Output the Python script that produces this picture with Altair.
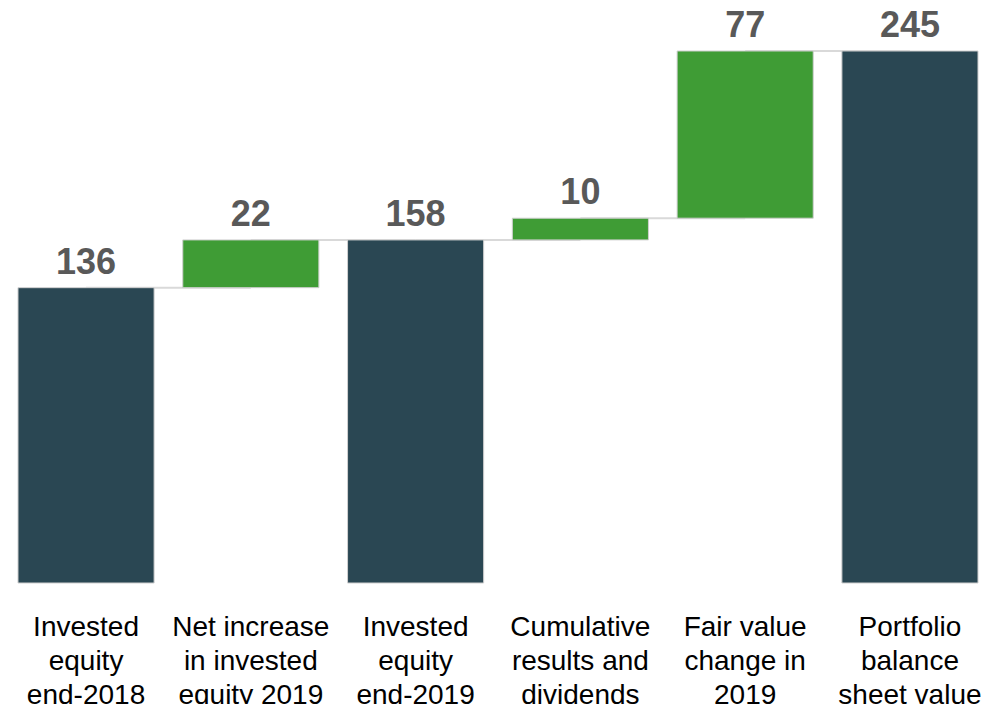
import altair as alt
import pandas as pd

categories = [
    "Invested|equity|end-2018",
    "Net increase|in invested|equity 2019",
    "Invested|equity|end-2019",
    "Cumulative|results and|dividends",
    "Fair value|change in|2019",
    "Portfolio|balance|sheet value",
]
amounts = [136, 22, 158, 10, 77, 245]
kinds = ["total", "increase", "total", "increase", "increase", "total"]

# waterfall stacking
starts, ends = [], []
running = 0
for a, k in zip(amounts, kinds):
    if k == "total":
        s, e = 0, a
        running = a
    else:
        s, e = running, running + a
        running = e
    starts.append(s)
    ends.append(e)

df = pd.DataFrame({"cat": categories, "amount": amounts, "kind": kinds,
                   "start": starts, "end": ends})

conn = pd.DataFrame({
    "cat": categories[:-1],
    "next": categories[1:],
    "level": ends[:-1],
})

xscale = alt.Scale(domain=categories, paddingInner=0.174, paddingOuter=0.0394, align=0.769)
yscale = alt.Scale(domain=[0, 264.8], nice=False, zero=True)

xaxis = alt.Axis(
    title=None, labelAngle=0, domain=False, ticks=False,
    labelExpr="split(datum.label, '|')",
    labelFont="Liberation Sans", labelFontSize=28, labelColor="#000000",
    labelLineHeight=34, labelPadding=30, labelLimit=0, labelBaseline="top",
)

rules = alt.Chart(conn).mark_rule(color="#D9D9D9", strokeWidth=2).encode(
    x=alt.X("cat:N", scale=xscale, sort=categories, axis=xaxis),
    x2="next:N",
    y=alt.Y("level:Q", scale=yscale, axis=None),
)

bars = alt.Chart(df).mark_bar(stroke="#D0D0D0", strokeWidth=1).encode(
    x=alt.X("cat:N", scale=xscale, sort=categories, axis=xaxis),
    y=alt.Y("start:Q", scale=yscale, axis=None),
    y2="end:Q",
    color=alt.Color("kind:N",
                    scale=alt.Scale(domain=["total", "increase"],
                                    range=["#2A4753", "#3F9C35"]),
                    legend=None),
)

labels = alt.Chart(df).mark_text(
    baseline="bottom", dy=-6, fontSize=36, fontWeight="bold",
    font="Liberation Sans", color="#595959",
).encode(
    x=alt.X("cat:N", scale=xscale, sort=categories, axis=xaxis),
    y=alt.Y("end:Q", scale=yscale, axis=None),
    text="amount:Q",
)

chart = alt.layer(rules, bars, labels).properties(
    width=973, height=575,
    autosize=alt.AutoSizeParams(type="none"),
    padding={"left": 0, "top": 0, "right": 0, "bottom": 121},
).configure_view(stroke=None).configure_axis(grid=False)

chart.save("out.html", embed_options={"renderer": "svg", "actions": False})
